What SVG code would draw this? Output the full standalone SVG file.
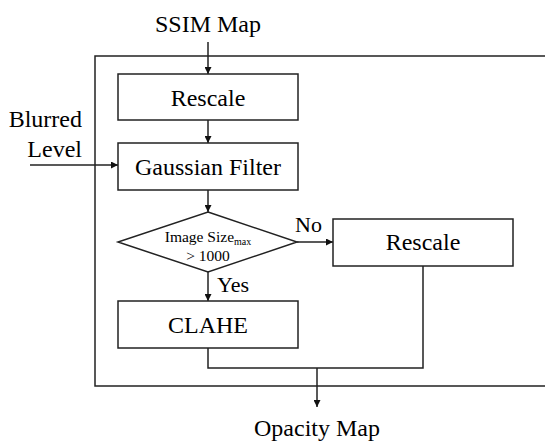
<svg xmlns="http://www.w3.org/2000/svg" width="545" height="442" viewBox="0 0 545 442">
<style>
text{font-family:"Liberation Serif","Times New Roman",serif;fill:#000}
.t{font-size:24px;text-anchor:middle}
.box{fill:#fff;stroke:#222;stroke-width:1.5}
.ln{fill:none;stroke:#222;stroke-width:1.5}
</style>
<defs>
<marker id="ah" viewBox="0 0 10 10" refX="10" refY="5" markerWidth="7" markerHeight="7" markerUnits="userSpaceOnUse" orient="auto">
<path d="M0,0 L10,5 L0,10 z" fill="#111"/>
</marker>
</defs>
<rect x="-1" y="-1" width="547" height="444" fill="#fff"/>
<path class="ln" d="M560,56 H95 V386 H560"/>
<g id="connectors">
<path class="ln" d="M208,42 V74" marker-end="url(#ah)"/>
<path class="ln" d="M208,120 V143" marker-end="url(#ah)"/>
<path class="ln" d="M30,165 H118" marker-end="url(#ah)"/>
<path class="ln" d="M208,190 V212" marker-end="url(#ah)"/>
<path class="ln" d="M297,242 H333" marker-end="url(#ah)"/>
<path class="ln" d="M208,272 V301" marker-end="url(#ah)"/>
<path class="ln" d="M423,266 V368 H208 V348"/>
<path class="ln" d="M317,368 V407" marker-end="url(#ah)"/>
<text x="295" y="232" style="font-size:22px">No</text>
<text x="217" y="292" style="font-size:22px">Yes</text>
</g>
<g id="ssim"><text class="t" x="208" y="32">SSIM Map</text></g>
<g id="blurred"><text x="82" y="127" style="font-size:24px;text-anchor:end">Blurred</text><text x="82" y="157" style="font-size:24px;text-anchor:end">Level</text></g>
<g id="rescale1"><rect class="box" x="118" y="74" width="180" height="46"/><text class="t" x="208" y="106">Rescale</text></g>
<g id="gaussian"><rect class="box" x="118" y="143" width="180" height="47"/><text class="t" x="208" y="175">Gaussian Filter</text></g>
<g id="decision"><path class="box" d="M208,212 L297,242 L208,272 L118,242 z"/><text x="208" y="242" style="font-size:15.5px;text-anchor:middle">Image Size<tspan style="font-size:10px" dy="3">max</tspan></text><text x="208" y="261" style="font-size:15.5px;text-anchor:middle">&gt; 1000</text></g>
<g id="rescale2"><rect class="box" x="333" y="219" width="180" height="47"/><text class="t" x="423" y="250">Rescale</text></g>
<g id="clahe"><rect class="box" x="118" y="301" width="180" height="47"/><text class="t" x="208" y="333">CLAHE</text></g>
<g id="opacity"><text class="t" x="317" y="436">Opacity Map</text></g>
</svg>
